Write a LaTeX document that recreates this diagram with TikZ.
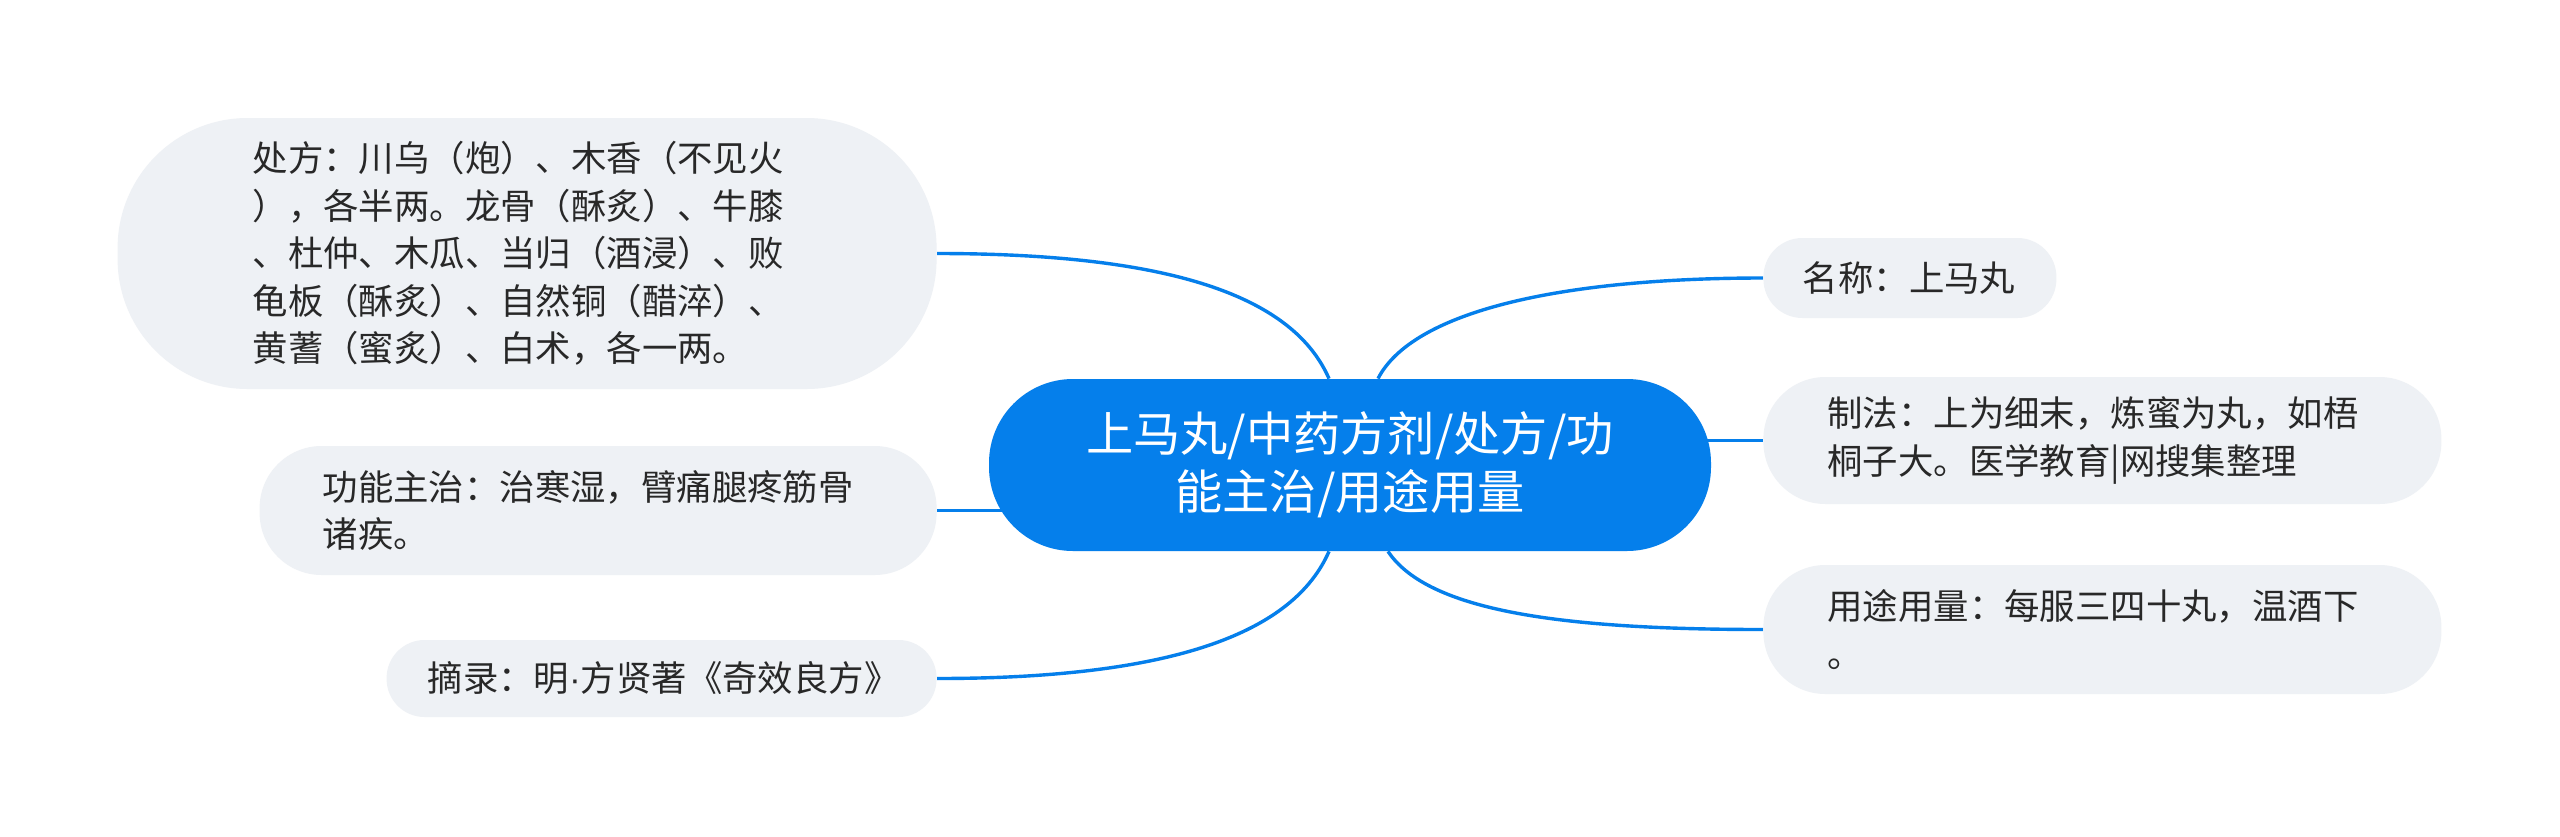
\documentclass[tikz,border=0pt]{standalone}
\usepackage{fontspec}
\setmainfont{Noto Sans CJK SC}
\newfontfamily\latinfont{Liberation Sans}
\usetikzlibrary{backgrounds}
\definecolor{mainblue}{RGB}{5,127,235}
\definecolor{leafgray}{RGB}{238,241,245}
\definecolor{leaftext}{RGB}{40,40,40}
\tikzset{
  leaf/.style={rectangle, fill=leafgray, text=leaftext, align=left, inner ysep=0pt,
    font=\fontsize{17.7pt}{23.75pt}\selectfont},
  rootnode/.style={rectangle, fill=mainblue, text=white, align=center, inner sep=0pt,
    minimum width=361pt, minimum height=86pt, rounded corners=42pt,
    font=\fontsize{23.6pt}{29pt}\selectfont},
  conn/.style={draw=mainblue, line width=1.7pt}
}
\begin{document}
\begin{tikzpicture}[x=0.5pt,y=-0.5pt]
\useasboundingbox (0,0) rectangle (2560,836);

\node[rootnode] (c) at (1350,465) {上马丸/中药方剂/处方/功\\能主治/用途用量};

\node[leaf, anchor=east, text width=274.5pt, inner xsep=67.5pt, minimum height=135.5pt, rounded corners=65pt] (p) at (937,253.5)
 {处方：川乌（炮）、木香（不见火\\），各半两。龙骨（酥炙）、牛膝\\、杜仲、木瓜、当归（酒浸）、败\\龟板（酥炙）、自然铜（醋淬）、\\黄蓍（蜜炙）、白术，各一两。};
\node[leaf, anchor=east, text width=275.5pt, inner xsep=31.5pt, minimum height=64.5pt, rounded corners=31pt] (f) at (937,510.5)
 {功能主治：治寒湿，臂痛腿疼筋骨\\诸疾。};
\node[leaf, anchor=east, text width=234pt, inner xsep=20.5pt, minimum height=38.5pt, rounded corners=19pt] (e) at (937,678.5)
 {摘录：明{\latinfont ·}方贤著《奇效良方》};

\node[leaf, anchor=west, text width=107pt, inner xsep=19.75pt, minimum height=40pt, rounded corners=19.5pt] (n) at (1763,278)
 {名称：上马丸};
\node[leaf, anchor=west, text width=275pt, inner xsep=32pt, minimum height=63.5pt, rounded corners=31pt] (z) at (1763,440.5)
 {制法：上为细末，炼蜜为丸，如梧\\桐子大。医学教育|网搜集整理};
\node[leaf, anchor=west, text width=275pt, inner xsep=32pt, minimum height=64.5pt, rounded corners=31pt] (u) at (1763,629.5)
 {用途用量：每服三四十丸，温酒下\\。};

\begin{scope}[on background layer]
\fill[white] (0,0) rectangle (2560,836);
\draw[conn] ([xshift=-10.5pt]c.north) .. controls +(-35,-80) and +(240,0) .. (p.east);
\draw[conn] (c.center |- f.east) -- (f.east);
\draw[conn] ([xshift=-10.5pt]c.south) .. controls +(-35,80) and +(240,0) .. (e.east);
\draw[conn] ([xshift=14pt]c.north) .. controls +(35,-68) and +(-200,0) .. (n.west);
\draw[conn] (c.center |- z.west) -- (z.west);
\draw[conn] ([xshift=19pt]c.south) .. controls +(40,60) and +(-200,0) .. (u.west);
\end{scope}
\end{tikzpicture}
\end{document}
